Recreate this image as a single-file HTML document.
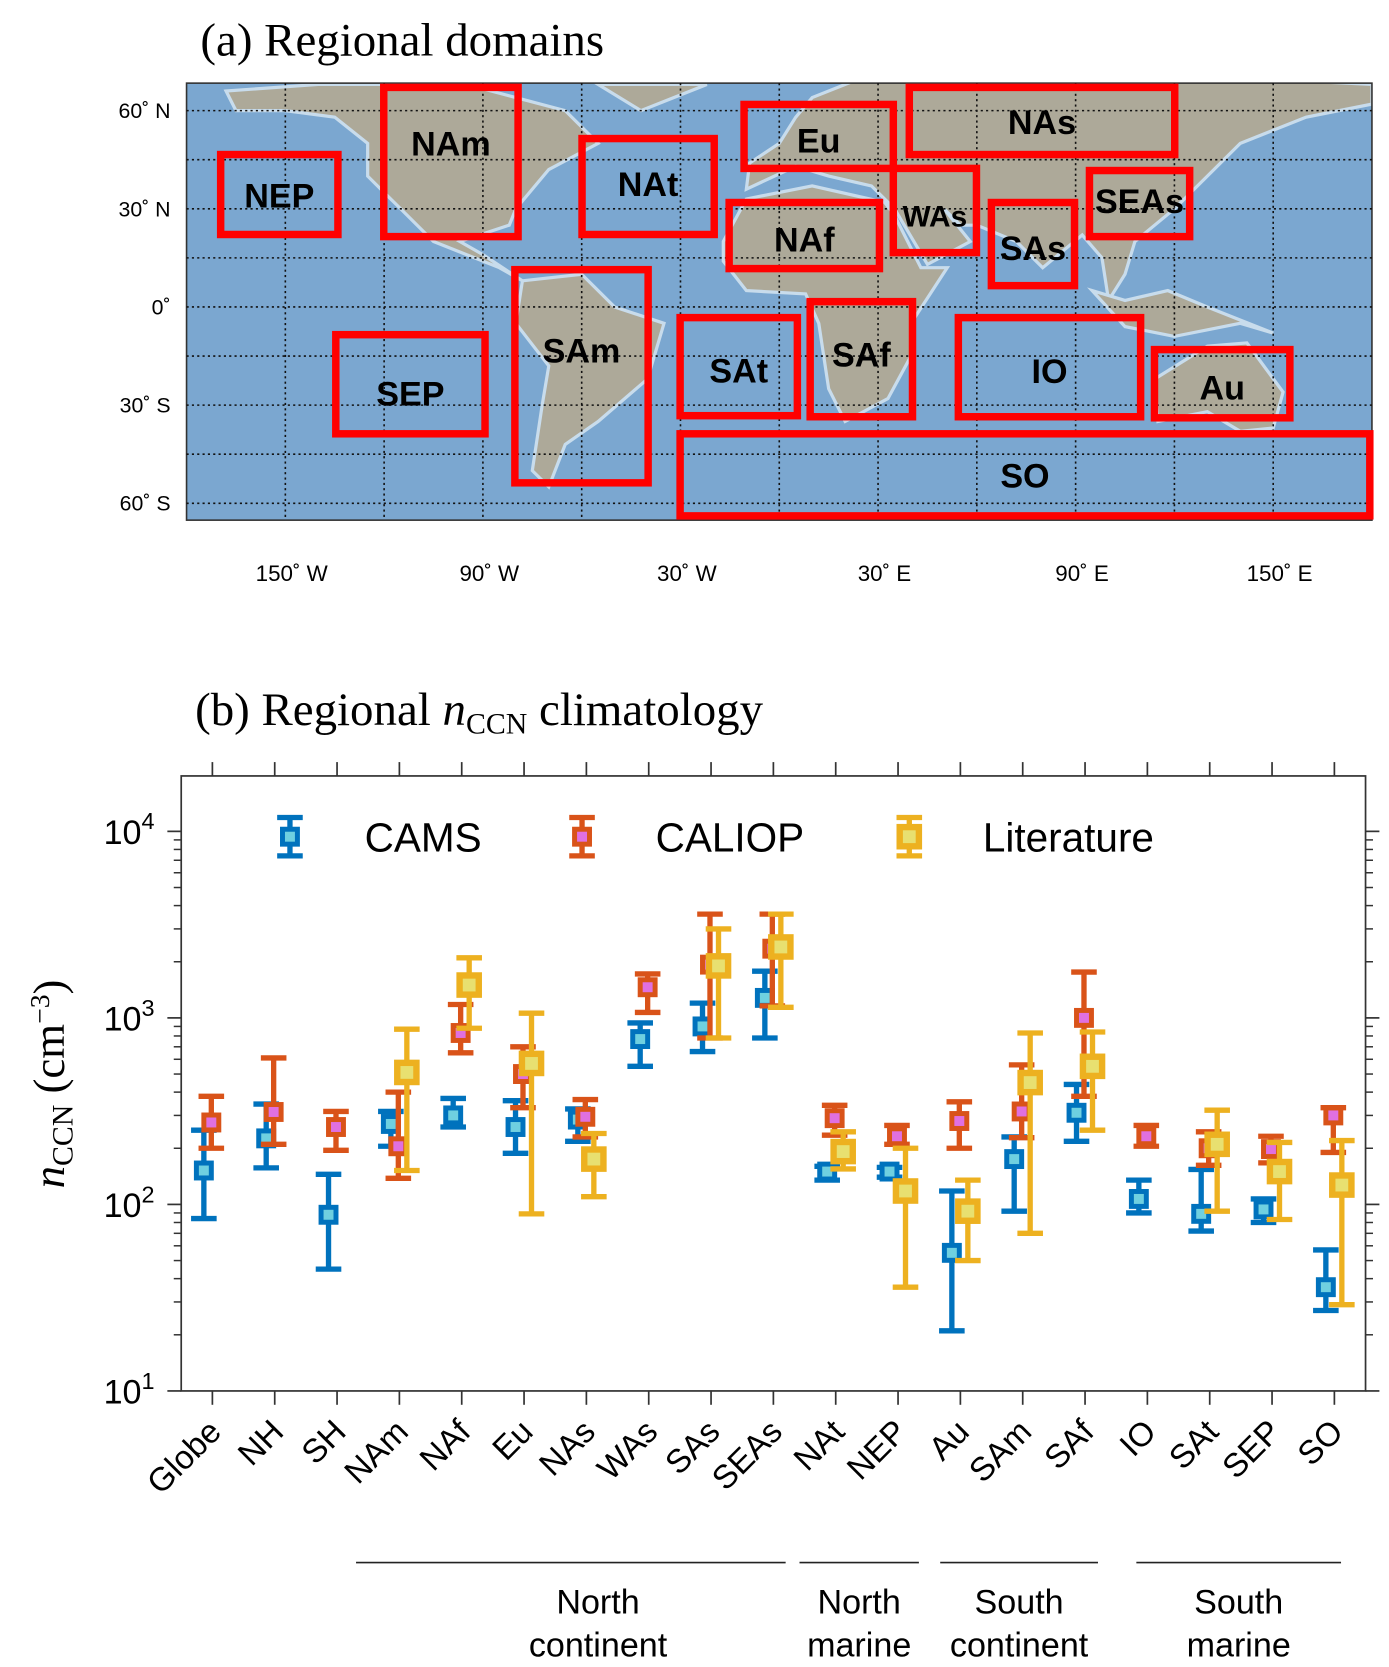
<!DOCTYPE html>
<html><head><meta charset="utf-8"><style>
body{margin:0;background:#fff}
svg{display:block}
.sans{font-family:"Liberation Sans",sans-serif}
.serif{font-family:"Liberation Serif",serif}
</style></head><body>
<svg id="fig" width="1389" height="1667" viewBox="0 0 1303 1564" preserveAspectRatio="none" xmlns="http://www.w3.org/2000/svg">
<defs><clipPath id="mclip"><rect x="175" y="78" width="1112" height="410"/></clipPath></defs>
<text x="188" y="52" class="serif" font-size="44">(a) Regional domains</text>
<g id="map"></g>
<text x="183" y="680" class="serif" font-size="44">(b) Regional <tspan font-style="italic">n</tspan><tspan font-size="28" dy="8">CCN</tspan><tspan dy="-8"> climatology</tspan></text>
<g id="chart"></g>
</svg>
<script>
const NS="http://www.w3.org/2000/svg";
function mk(tag,attrs,parent,text){const e=document.createElementNS(NS,tag);for(const k in attrs)e.setAttribute(k,attrs[k]);if(text!==undefined)e.textContent=text;parent.appendChild(e);return e;}
// ---- MAP ----
const map=document.getElementById('map');
const MX0=175,MX1=1287,MY0=78,MY1=488;
const px=lon=>MX0+(lon+180)*3.089, py=lat=>288-lat*3.07;
mk('rect',{x:MX0,y:MY0,width:MX1-MX0,height:MY1-MY0,fill:'#7ba7d0'},map);
const landG=mk('g',{'clip-path':'url(#mclip)'},map);
const lands=[
[[-168,66],[-140,68],[-95,68],[-80,64],[-65,60],[-55,50],[-70,42],[-80,30],[-82,25],[-97,20],[-90,16],[-78,8],[-85,12],[-105,20],[-115,30],[-125,40],[-125,50],[-135,58],[-150,60],[-165,60]],
[[-55,68],[-22,68],[-42,60]],
[[-78,8],[-60,10],[-50,0],[-35,-5],[-40,-22],[-55,-35],[-65,-42],[-70,-55],[-75,-50],[-72,-30],[-70,-18],[-80,-5]],
[[-17,20],[-10,33],[10,37],[32,32],[35,28],[43,12],[51,12],[40,-5],[40,-15],[33,-28],[20,-35],[15,-25],[12,-5],[8,4],[-10,5],[-17,14]],
[[-10,36],[-9,44],[0,50],[5,58],[10,64],[25,70],[60,70],[100,68],[140,70],[180,68],[180,62],[160,58],[140,50],[130,40],[120,30],[108,20],[105,10],[100,2],[98,15],[92,22],[80,12],[72,20],[60,25],[55,25],[50,30],[58,20],[45,13],[35,30],[28,37],[15,40],[5,43]],
[[114,-22],[130,-12],[142,-11],[153,-26],[150,-37],[140,-38],[130,-32],[115,-35]],
[[95,5],[105,-6],[120,-9],[140,-5],[150,-8],[130,0],[118,5],[105,2]]
];
lands.forEach((p,i)=>{const l=mk('polygon',{points:p.map(q=>px(q[0])+','+py(q[1])).join(' '),fill:'#ada999',stroke:'#c8dcec','stroke-width':3},landG);

});
mk('rect',{x:MX0,y:MY0,width:MX1-MX0,height:MY1-MY0,fill:'none',stroke:'#333','stroke-width':1.5},map);
for(let lon=-150;lon<180;lon+=30){mk('line',{x1:px(lon),x2:px(lon),y1:MY0,y2:MY1,stroke:'#111','stroke-width':1.5,'stroke-dasharray':'2,3'},map);}
for(let lat=-60;lat<=60;lat+=15){mk('line',{x1:MX0,x2:MX1,y1:py(lat),y2:py(lat),stroke:'#111','stroke-width':1.5,'stroke-dasharray':'2,3'},map);}
const boxes=[["NEP",207,145,317,220],["NAm",360,82,486,222],["NAt",546,130,670,220],["Eu",698,98,838,158],["NAs",853,82,1102,145],["NAf",684,190,825,252],["WAs",838,158,916,237],["SEAs",1022,160,1116,222],["SAs",930,190,1008,268],["SAm",483,253,608,453],["SEP",315,314,455,407],["SAt",638,298,748,390],["SAf",760,283,856,391],["IO",899,298,1070,391],["Au",1083,328,1210,392],["SO",638,407,1285,484]];
const lblOff={NEP:[0,0],NAm:[0,-18],NAt:[0,-3],Eu:[0,3],NAs:[0,0],NAf:[0,3],WAs:[0,3],SEAs:[0,-3],SAs:[0,3],SAm:[0,-25],SEP:[0,8],SAt:[0,3],SAf:[0,-5],IO:[0,3],Au:[0,3],SO:[0,0]};
boxes.forEach(b=>{const r=mk('rect',{x:b[1],y:b[2],width:b[3]-b[1],height:b[4]-b[2],fill:'none',stroke:'#f00','stroke-width':7},map);


const o=lblOff[b[0]];
mk('text',{x:(b[1]+b[3])/2+o[0],y:(b[2]+b[4])/2+12+o[1],'text-anchor':'middle',class:'sans','font-weight':'bold','font-size':b[0]==='WAs'?28:32,fill:'#000'},map,b[0]);});
[["60",'N',60],["30",'N',30],["0",'',0],["30",'S',-30],["60",'S',-60]].forEach(l=>{
const t=mk('text',{x:160,y:py(l[2])+7,'text-anchor':'end',class:'sans','font-size':20},map);
t.textContent=l[0]+'\u02DA '+l[1];});
[["150\u02DA W",-150],["90\u02DA W",-90],["30\u02DA W",-30],["30\u02DA E",30],["90\u02DA E",90],["150\u02DA E",150]].forEach(l=>{
mk('text',{x:px(l[1])+6,y:545,'text-anchor':'middle',class:'sans','font-size':21},map,l[0]);});

// ---- CHART ----
const categories=["Globe","NH","SH","NAm","NAf","Eu","NAs","WAs","SAs","SEAs","NAt","NEP","Au","SAm","SAf","IO","SAt","SEP","SO"];
const camsMid=[152,226,88,270,300,260,285,770,900,1280,150,150,55,175,310,107,89,94,36];
const camsLow=[84,157,45,205,260,188,218,550,660,780,135,140,21,92,218,90,72,80,27];
const camsHigh=[250,345,145,315,370,360,325,940,1200,1780,160,158,118,230,440,135,154,107,57];
const caliopMid=[275,313,260,205,830,500,295,1460,1930,2350,290,232,280,315,1000,232,200,198,300];
const caliopLow=[200,210,195,138,650,330,230,1070,780,1160,235,210,200,228,380,205,162,167,190];
const caliopHigh=[380,610,315,400,1180,700,365,1720,3600,3600,340,265,355,560,1760,265,245,232,330];
const litMid=[null,null,null,510,1500,570,175,null,1900,2400,192,118,92,450,550,null,210,150,127];
const litLow=[null,null,null,152,880,89,110,null,780,1140,155,36,50,70,250,null,92,83,29];
const litHigh=[null,null,null,870,2100,1060,240,null,3000,3600,245,200,135,830,840,null,320,215,220];
const yTicks=[1,2,3,4];
const groups=[["North","continent",334,737],["North","marine",750,862],["South","continent",882,1030],["South","marine",1066,1258]];

const ch=document.getElementById('chart');
const X0=170,X1=1281,Y0=728,Y1=1305;
const xs=i=>X0+(i+0.5)*(X1-X0)/categories.length;
const ys=v=>Y1-(Math.log10(v)-1)*175;
mk('rect',{x:X0,y:Y0,width:X1-X0,height:Y1-Y0,fill:'none',stroke:'#333','stroke-width':1.6},ch);
categories.forEach((c,i)=>{
const x=xs(i);
mk('line',{x1:x,x2:x,y1:Y0-13,y2:Y0,stroke:'#333','stroke-width':1.6},ch);
mk('line',{x1:x,x2:x,y1:Y1,y2:Y1+13,stroke:'#333','stroke-width':1.6},ch);
const t=mk('text',{x:0,y:0,'text-anchor':'end',class:'sans','font-size':31,transform:`translate(${x+10},${Y1+40}) rotate(-45)`},ch,c);


});
yTicks.forEach(p=>{const y=ys(Math.pow(10,p));
mk('line',{x1:X0-13,x2:X0,y1:y,y2:y,stroke:'#333','stroke-width':1.6},ch);
mk('line',{x1:X1,x2:X1+13,y1:y,y2:y,stroke:'#333','stroke-width':1.6},ch);
if(p<4){for(let m=2;m<10;m++){const ym=ys(m*Math.pow(10,p));
mk('line',{x1:X0-7,x2:X0,y1:ym,y2:ym,stroke:'#333','stroke-width':1.4},ch);
mk('line',{x1:X1,x2:X1+7,y1:ym,y2:ym,stroke:'#333','stroke-width':1.4},ch);}}
const t=mk('text',{x:145,y:y+12,'text-anchor':'end',class:'sans','font-size':32},ch);
t.innerHTML='10<tspan font-size="22" dy="-14">'+p+'</tspan>';


});
[2,3].forEach(m=>{const ym=ys(m*1e4);if(ym>Y0){mk('line',{x1:X0-7,x2:X0,y1:ym,y2:ym,stroke:'#333','stroke-width':1.4},ch);}});
const yl=mk('text',{x:0,y:0,class:'serif','font-size':42,'text-anchor':'middle',transform:'translate(60,1017) rotate(-90)'},ch);
yl.innerHTML='<tspan font-style="italic">n</tspan><tspan font-size="28" dy="8">CCN</tspan><tspan dy="-8"> (cm</tspan><tspan font-size="26" dy="-14">\u22123</tspan><tspan dy="14">)</tspan>';



function bar(g,x,lo,mid,hi,col,inner,sz){
mk('line',{x1:x,x2:x,y1:ys(hi),y2:ys(lo),stroke:col,'stroke-width':5},g);
mk('line',{x1:x-12,x2:x+12,y1:ys(hi),y2:ys(hi),stroke:col,'stroke-width':5},g);
mk('line',{x1:x-12,x2:x+12,y1:ys(lo),y2:ys(lo),stroke:col,'stroke-width':5},g);
mk('rect',{x:x-sz/2,y:ys(mid)-sz/2,width:sz,height:sz,fill:inner,stroke:col,'stroke-width':sz/3},g);
}
const series=[["cams",camsMid,camsLow,camsHigh,'#0072BD','#6fd0e0',-8,14],["caliop",caliopMid,caliopLow,caliopHigh,'#D95319','#e070e0',-1,14],["literature",litMid,litLow,litHigh,'#EDB120','#e8e070',7,18]];
series.forEach(s=>{
categories.forEach((c,i)=>{if(s[1][i]==null)return;
const g=mk('g',{},ch);


bar(g,xs(i)+s[6],s[2][i],s[1][i],s[3][i],s[4],s[5],s[7]);});
});
// legend
const leg=[["CAMS",272,342,'#0072BD','#6fd0e0',14],["CALIOP",546,615,'#D95319','#e070e0',14],["Literature",853,922,'#EDB120','#e8e070',18]];
leg.forEach(l=>{const g=mk('g',{},ch);


const x=l[1];
mk('line',{x1:x,x2:x,y1:767,y2:803,stroke:l[3],'stroke-width':5},g);
mk('line',{x1:x-12,x2:x+12,y1:767,y2:767,stroke:l[3],'stroke-width':5},g);
mk('line',{x1:x-12,x2:x+12,y1:803,y2:803,stroke:l[3],'stroke-width':5},g);
mk('rect',{x:x-l[5]/2,y:785-l[5]/2,width:l[5],height:l[5],fill:l[4],stroke:l[3],'stroke-width':l[5]/3},g);
mk('text',{x:l[2],y:799,class:'sans','font-size':38},g,l[0]);});
groups.forEach(gr=>{const g=mk('g',{},ch);


mk('line',{x1:gr[2],x2:gr[3],y1:1466,y2:1466,stroke:'#222','stroke-width':1.6},g);
const cx=gr[0]==="North"&&gr[1]==="continent"?561:(gr[2]+gr[3])/2;
mk('text',{x:cx,y:1514,'text-anchor':'middle',class:'sans','font-size':32},g,gr[0]);
mk('text',{x:cx,y:1554,'text-anchor':'middle',class:'sans','font-size':32},g,gr[1]);});
</script>
</body></html>
